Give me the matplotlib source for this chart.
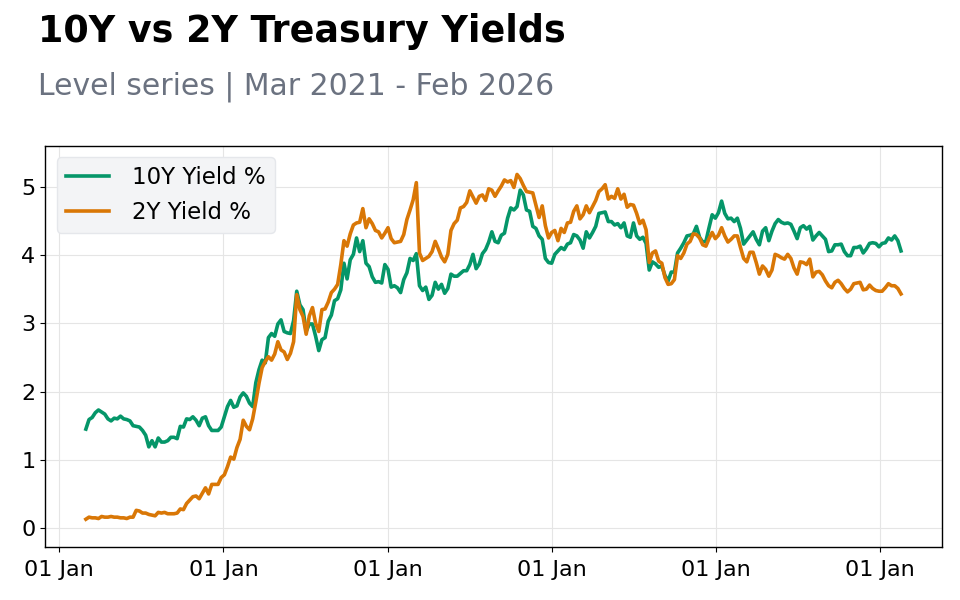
import matplotlib
matplotlib.use("Agg")
import matplotlib.pyplot as plt
import matplotlib.dates as mdates
import pandas as pd

# Weekly observations (Mondays) starting 2021-03-01
start_date = "2021-03-01"

y10 = [
    # 2021
    1.45, 1.59, 1.62, 1.69, 1.73, 1.70, 1.67, 1.60, 1.57, 1.61, 1.60, 1.64, 1.60, 1.59,
    1.57, 1.50, 1.49, 1.48, 1.43, 1.36, 1.19, 1.28, 1.19, 1.32, 1.26, 1.26, 1.28, 1.33,
    1.33, 1.31, 1.49, 1.48, 1.60, 1.59, 1.63, 1.58, 1.50, 1.61, 1.63, 1.50, 1.43, 1.43,
    1.43, 1.48,
    # 2022
    1.63, 1.78, 1.87, 1.77, 1.79, 1.92, 1.98, 1.93, 1.83, 1.78, 2.13, 2.32, 2.46, 2.42,
    2.79, 2.85, 2.81, 2.99, 3.05, 2.88, 2.86, 2.85, 3.04, 3.47, 3.27, 3.20, 2.88, 2.99,
    2.99, 2.81, 2.60, 2.76, 2.79, 3.03, 3.12, 3.33, 3.36, 3.49, 3.88, 3.65, 3.93, 4.01,
    4.25, 4.05, 4.21, 3.88, 3.83, 3.68, 3.60, 3.61, 3.59, 3.86,
    # 2023
    3.79, 3.53, 3.55, 3.52, 3.45, 3.64, 3.74, 3.95, 3.92, 4.02, 3.55, 3.48, 3.53, 3.35,
    3.41, 3.60, 3.50, 3.57, 3.44, 3.51, 3.72, 3.69, 3.69, 3.73, 3.77, 3.77, 3.86, 4.01,
    3.80, 3.87, 4.02, 4.08, 4.19, 4.34, 4.20, 4.18, 4.29, 4.32, 4.54, 4.69, 4.66, 4.71,
    4.95, 4.88, 4.66, 4.64, 4.42, 4.39, 4.28, 4.23, 3.95, 3.89,
    # 2024
    3.88, 4.01, 4.06, 4.11, 4.08, 4.16, 4.18, 4.30, 4.28, 4.22, 4.10, 4.34, 4.25, 4.33,
    4.42, 4.61, 4.62, 4.63, 4.49, 4.49, 4.44, 4.46, 4.40, 4.47, 4.28, 4.26, 4.47, 4.28,
    4.23, 4.26, 4.17, 3.78, 3.90, 3.87, 3.82, 3.84, 3.70, 3.62, 3.75, 3.75, 4.03, 4.10,
    4.18, 4.28, 4.29, 4.31, 4.42, 4.26, 4.19, 4.20, 4.40, 4.59, 4.54,
    # 2025
    4.62, 4.79, 4.61, 4.53, 4.54, 4.49, 4.54, 4.39, 4.16, 4.22, 4.28, 4.34, 4.23, 4.15,
    4.35, 4.40, 4.21, 4.35, 4.46, 4.52, 4.48, 4.46, 4.47, 4.45, 4.35, 4.24, 4.40, 4.43,
    4.38, 4.42, 4.22, 4.28, 4.33, 4.28, 4.23, 4.05, 4.06, 4.15, 4.15, 4.16, 4.05, 3.99,
    3.99, 4.11, 4.11, 4.13, 4.03, 4.09, 4.17, 4.18, 4.17, 4.12,
    # 2026
    4.17, 4.18, 4.25, 4.22, 4.28, 4.21, 4.06,
]

y2 = [
    # 2021
    0.13, 0.16, 0.15, 0.15, 0.14, 0.17, 0.16, 0.16, 0.17, 0.16, 0.16, 0.15, 0.15, 0.14,
    0.16, 0.16, 0.26, 0.25, 0.22, 0.22, 0.20, 0.19, 0.18, 0.23, 0.22, 0.23, 0.21, 0.21,
    0.21, 0.22, 0.28, 0.27, 0.36, 0.41, 0.46, 0.47, 0.43, 0.51, 0.59, 0.50, 0.64, 0.64,
    0.64, 0.74,
    # 2022
    0.78, 0.90, 1.04, 1.01, 1.18, 1.30, 1.58, 1.49, 1.44, 1.60, 1.85, 2.12, 2.35, 2.44,
    2.51, 2.46, 2.55, 2.73, 2.61, 2.58, 2.47, 2.56, 2.73, 3.42, 3.20, 3.10, 2.84, 3.11,
    3.23, 3.00, 2.88, 3.20, 3.21, 3.31, 3.45, 3.50, 3.57, 3.86, 4.21, 4.13, 4.31, 4.44,
    4.47, 4.48, 4.68, 4.40, 4.53, 4.46, 4.36, 4.34, 4.25, 4.32,
    # 2023
    4.40, 4.24, 4.18, 4.19, 4.20, 4.30, 4.52, 4.66, 4.81, 5.06, 4.03, 3.92, 3.95, 3.98,
    4.05, 4.20, 4.09, 3.97, 3.90, 4.01, 4.36, 4.46, 4.51, 4.69, 4.71, 4.77, 4.94, 4.85,
    4.76, 4.86, 4.88, 4.80, 4.97, 4.95, 4.86, 4.94, 5.01, 5.10, 5.07, 5.09, 4.99, 5.18,
    5.12, 5.02, 4.93, 4.92, 4.91, 4.73, 4.55, 4.72, 4.43, 4.25,
    # 2024
    4.33, 4.36, 4.21, 4.39, 4.33, 4.47, 4.48, 4.64, 4.72, 4.53, 4.59, 4.72, 4.62, 4.71,
    4.80, 4.93, 4.97, 5.03, 4.82, 4.86, 4.83, 4.97, 4.82, 4.89, 4.70, 4.74, 4.73, 4.61,
    4.46, 4.51, 4.37, 3.89, 4.03, 4.06, 3.91, 3.88, 3.67, 3.57, 3.58, 3.64, 3.99, 3.95,
    4.03, 4.16, 4.20, 4.31, 4.30, 4.25, 4.15, 4.13, 4.24, 4.33, 4.24,
    # 2025
    4.29, 4.40, 4.28, 4.19, 4.23, 4.28, 4.28, 4.11, 3.95, 3.90, 4.04, 4.04, 3.89, 3.72,
    3.84, 3.79, 3.69, 3.78, 4.01, 3.99, 3.96, 3.94, 4.01, 3.95, 3.81, 3.72, 3.90, 3.89,
    3.86, 3.94, 3.68, 3.75, 3.76, 3.71, 3.62, 3.55, 3.52, 3.60, 3.63, 3.58, 3.51, 3.46,
    3.50, 3.58, 3.59, 3.60, 3.49, 3.50, 3.56, 3.51, 3.48, 3.47,
    # 2026
    3.47, 3.52, 3.58, 3.55, 3.55, 3.51, 3.43,
]

series_labels = ["10Y Yield %", "2Y Yield %"]
title = "10Y vs 2Y Treasury Yields"
subtitle = "Level series | Mar 2021 - Feb 2026"

dates = pd.date_range(start_date, periods=len(y10), freq="W-MON")

fig = plt.figure(figsize=(9.6, 6), dpi=100)
ax = fig.add_axes([0.047, 0.088, 0.934, 0.669])

ax.plot(dates, y10, color="#059669", lw=2.6, label=series_labels[0])
ax.plot(dates, y2, color="#D97706", lw=2.6, label=series_labels[1])

ax.set_ylim(-0.28, 5.6)
ax.xaxis.set_major_locator(mdates.YearLocator())
ax.xaxis.set_major_formatter(mdates.DateFormatter("%d %b"))
ax.grid(True, color="#e5e5e5", lw=0.8)
ax.set_axisbelow(True)
ax.tick_params(labelsize=16)
ax.tick_params(axis="x", pad=6)
for s in ax.spines.values():
    s.set_color("black")
    s.set_linewidth(1.0)

leg = ax.legend(loc="upper left", fontsize=16.5, facecolor="#f3f4f6",
                edgecolor="#e5e7eb", framealpha=1, handlelength=1.9,
                handletextpad=1.0)

fig.text(0.04, 0.93, title, fontsize=26.3, fontweight="bold", va="baseline")
fig.text(0.04, 0.842, subtitle, fontsize=21.5, color="#6b7280", va="baseline")

fig.savefig("out.png", dpi=100)
